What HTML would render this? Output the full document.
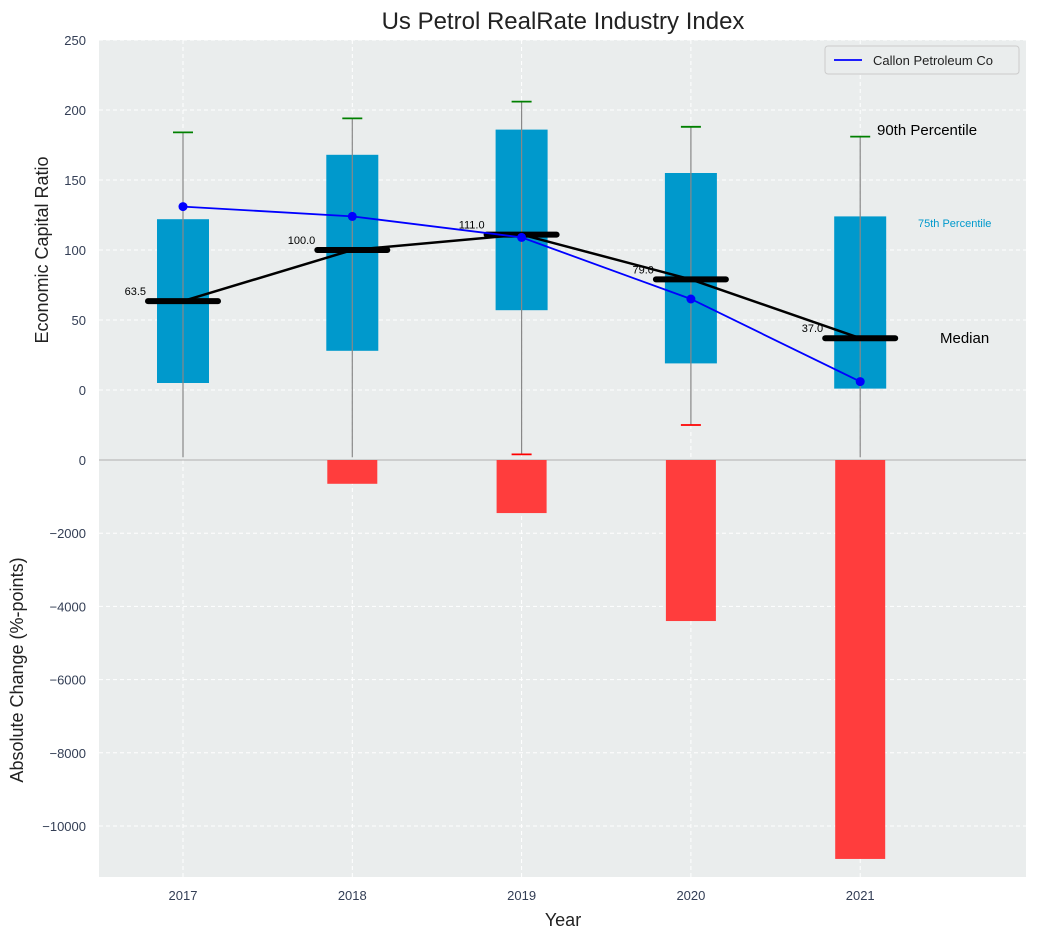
<!DOCTYPE html>
<html><head><meta charset="utf-8"><style>
body{margin:0;background:#fff;font-family:"Liberation Sans",sans-serif}
svg text{font-family:"Liberation Sans",sans-serif}
</style></head><body>
<svg id="c" width="1038" height="940" xmlns="http://www.w3.org/2000/svg">
<rect x="99" y="40" width="927" height="837" fill="#eaeded"/>
<g id="g"></g>
</svg>
<script>
const years=[2017,2018,2019,2020,2021];
const q25=[5,28,57,19,1];
const q75=[122,168,186,155,124];
const p90=[184,194,206,188,181];
const p10=[-48,-48,-46,-25,-48];
const medians=[63.5,100,111,79,37];
const company=[131,124,109,65,6];
const absChange=[0,-650,-1450,-4400,-10900];
const topTicks=[250,200,150,100,50,0];
const botTicks=[0,-2000,-4000,-6000,-8000,-10000];

const NS="http://www.w3.org/2000/svg";
const g=document.getElementById('g');
function el(t,a,txt){const e=document.createElementNS(NS,t);for(const k in a)e.setAttribute(k,a[k]);if(txt!==undefined)e.textContent=txt;g.appendChild(e);return e;}
const xs=i=>183+i*169.3;
const yT=v=>390-v*1.4;
const yBot=v=>460-v*0.0366;

years.forEach((y,i)=>{let l=el('line',{x1:xs(i),x2:xs(i),y1:40,y2:877,stroke:'#fff','stroke-dasharray':'4,3','stroke-width':1});
});
topTicks.forEach(v=>{let l=el('line',{x1:99,x2:1026,y1:yT(v),y2:yT(v),stroke:'#fff','stroke-dasharray':'4,3'});

let t=el('text',{x:86,y:yT(v)+5,'text-anchor':'end','font-size':13,fill:'#333e55'},v);
});
botTicks.forEach(v=>{let yy=yBot(v);let l=el('line',{x1:99,x2:1026,y1:yy,y2:yy,stroke:'#fff','stroke-dasharray':'4,3'});

let t=el('text',{x:86,y:yy+5,'text-anchor':'end','font-size':13,fill:'#333e55'},v<0?'\u2212'+(-v):v);
});
let sep=el('line',{x1:99,x2:1026,y1:460,y2:460,stroke:'#b0b0b0','stroke-width':1});


years.forEach((y,i)=>{
 const x=xs(i);
 let b=el('rect',{x:x-26,y:yT(q75[i]),width:52,height:yT(q25[i])-yT(q75[i]),fill:'#0099cc'});
 
 let w=el('line',{x1:x,x2:x,y1:yT(p90[i]),y2:Math.min(yT(p10[i]),458),stroke:'#888','stroke-width':1.2});
 
 let c=el('line',{x1:x-10,x2:x+10,y1:yT(p90[i]),y2:yT(p90[i]),stroke:'green','stroke-width':1.8});
 
 if(p10[i]>-47){let c2=el('line',{x1:x-10,x2:x+10,y1:yT(p10[i]),y2:yT(p10[i]),stroke:'red','stroke-width':1.8});
 }
 let r=el('rect',{x:x-25,y:460,width:50,height:yBot(absChange[i])-460,fill:'#ff3d3d'});
 
 let t=el('text',{x:x,y:900,'text-anchor':'middle','font-size':13,fill:'#333e55'},y);
 
});
let mp=el('polyline',{points:medians.map((v,i)=>xs(i)+','+yT(v)).join(' '),fill:'none',stroke:'#000','stroke-width':2.5});

medians.forEach((v,i)=>{let l=el('line',{x1:xs(i)-35,x2:xs(i)+35,y1:yT(v),y2:yT(v),stroke:'#000','stroke-width':6,'stroke-linecap':'round'});

let t=el('text',{x:xs(i)-37,y:yT(v)-6,'text-anchor':'end','font-size':11,fill:'#000'},v.toFixed(1));
});
let cp=el('polyline',{points:company.map((v,i)=>xs(i)+','+yT(v)).join(' '),fill:'none',stroke:'blue','stroke-width':1.8});

company.forEach((v,i)=>{let d=el('circle',{cx:xs(i),cy:yT(v),r:4.5,fill:'blue'});
});
</script>
<svg width="1038" height="940" style="position:absolute;left:0;top:0" xmlns="http://www.w3.org/2000/svg">
<text x="563" y="29" text-anchor="middle" font-size="24" fill="#222">Us Petrol RealRate Industry Index</text>
<text x="877" y="135" font-size="15" fill="#000">90th Percentile</text>
<text x="918" y="227" font-size="11" fill="#0099cc">75th Percentile</text>
<text x="940" y="343" font-size="15" fill="#000">Median</text>
<text transform="translate(48,250) rotate(-90)" text-anchor="middle" font-size="18" fill="#222">Economic Capital Ratio</text>
<text transform="translate(23,670) rotate(-90)" text-anchor="middle" font-size="18" fill="#222">Absolute Change (%-points)</text>
<text x="563" y="926" text-anchor="middle" font-size="18" fill="#222">Year</text>
<g>
<rect x="825" y="46" width="194" height="28" rx="3" fill="#eaeded" stroke="#ccc"/>
<line x1="834" y1="60" x2="862" y2="60" stroke="blue" stroke-width="1.8"/>
<text x="873" y="65" font-size="13" fill="#222">Callon Petroleum Co</text>
</g>
</svg>
</body></html>
